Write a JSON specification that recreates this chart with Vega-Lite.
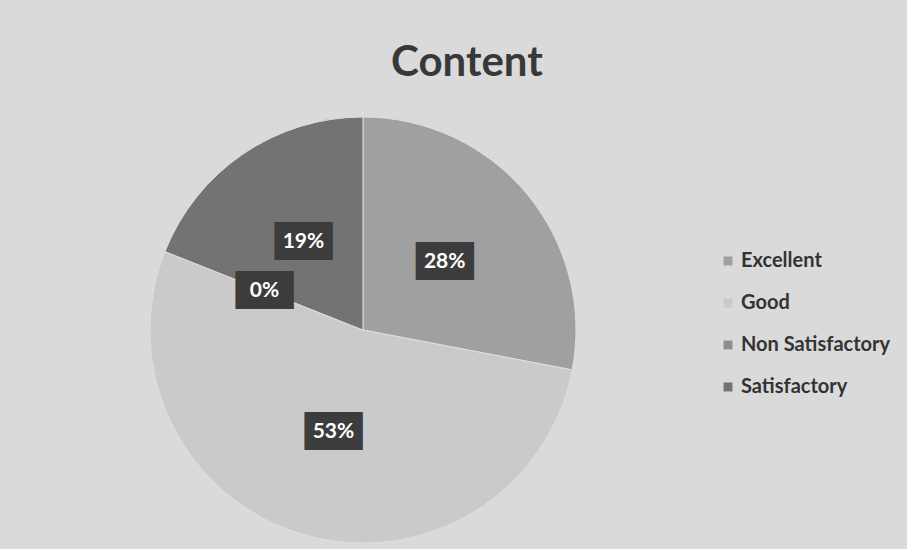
{
  "$schema": "https://vega.github.io/schema/vega-lite/v6.json",
  "autosize": {"type": "none"},
  "width": 726,
  "height": 438,
  "padding": {"left": 0, "top": 111, "right": 181, "bottom": 0},
  "background": "#dadada",
  "config": {"view": {"stroke": null}},
  "title": {
    "text": "Content",
    "font": "Lato",
    "fontWeight": "bold",
    "fontSize": 42,
    "color": "#383838",
    "anchor": "middle",
    "frame": "group",
    "baseline": "alphabetic",
    "offset": -7,
    "dx": 104
  },
  "data": {
    "values": [
      {"category": "Excellent", "value": 28, "label": "28%"},
      {"category": "Good", "value": 53, "label": "53%"},
      {"category": "Non Satisfactory", "value": 0, "label": "0%"},
      {"category": "Satisfactory", "value": 19, "label": "19%"}
    ]
  },
  "encoding": {
    "theta": {"field": "value", "type": "quantitative", "stack": true},
    "order": {"field": "category", "sort": "ascending"}
  },
  "layer": [
    {
      "mark": {"type": "arc", "outerRadius": 213, "stroke": "#dedede", "strokeWidth": 1},
      "encoding": {
        "color": {
          "field": "category",
          "type": "nominal",
          "scale": {
            "domain": ["Excellent", "Good", "Non Satisfactory", "Satisfactory"],
            "range": ["#a0a0a0", "#cacaca", "#8e8e8e", "#737373"]
          },
          "legend": {
            "title": null,
            "orient": "none",
            "legendX": 718,
            "legendY": 140,
            "symbolType": "square",
            "symbolSize": 80,
            "symbolStrokeWidth": 0,
            "labelFont": "Lato",
            "labelFontWeight": "bold",
            "labelFontSize": 20,
            "labelColor": "#333333",
            "rowPadding": 22,
            "labelOffset": 3
          }
        }
      }
    },
    {
      "mark": {"type": "text", "radius": 106, "text": "███", "font": "DejaVu Sans Mono", "fontSize": 32, "color": "#3c3c3c", "baseline": "middle", "align": "center"}
    },
    {
      "mark": {"type": "text", "radius": 106, "font": "Lato", "fontWeight": "bold", "fontSize": 21, "color": "#ffffff", "baseline": "middle", "align": "center"},
      "encoding": {"text": {"field": "label", "type": "nominal"}}
    }
  ]
}
